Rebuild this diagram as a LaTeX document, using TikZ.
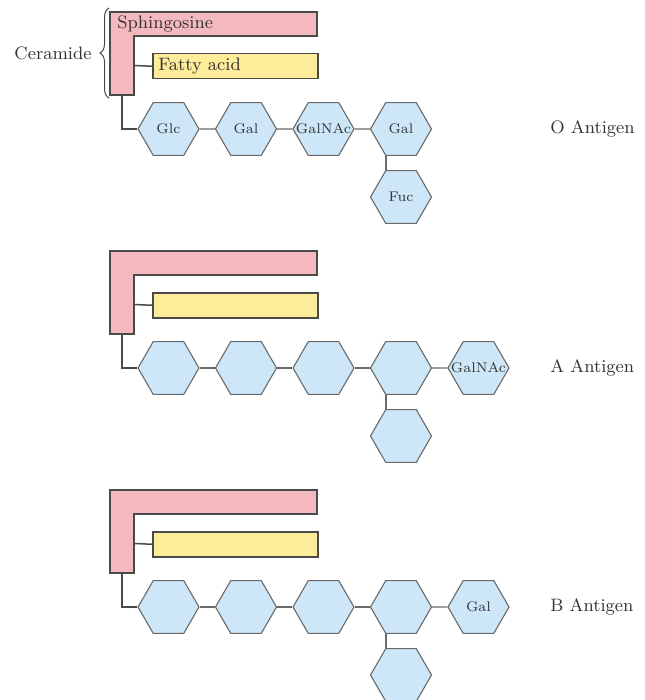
\documentclass[tikz,border=0pt]{standalone}
\usetikzlibrary{shapes.geometric,decorations.pathreplacing}
\definecolor{pinkfill}{HTML}{F4B9BF}
\definecolor{yellowfill}{HTML}{FDEC9A}
\definecolor{bluefill}{HTML}{CDE6F8}
\definecolor{edgegray}{HTML}{4A4A4A}
\definecolor{hexedge}{HTML}{6A6A6A}
\definecolor{textgray}{HTML}{333333}
\tikzset{
  hexa/.style={regular polygon, regular polygon sides=6, minimum size=30.5pt,
    inner sep=0pt, fill=bluefill, draw=hexedge, line width=0.55pt,
    text=textgray, font=\fontsize{7}{8}\selectfont},
  lipid/.style={draw=edgegray, line width=0.75pt},
  link/.style={draw=hexedge, line width=0.6pt},
  lbl/.style={text=textgray, font=\fontsize{9}{11}\selectfont, inner sep=0pt},
}
\newcommand{\hx}[1]{\makebox[0pt]{#1}}
\newcommand{\glyrow}[7]{%
\begin{scope}[yshift=#2]
  \draw[lipid, fill=pinkfill] (110,12) -- (317,12) -- (317,36) -- (134,36)
      -- (134,95) -- (110,95) -- cycle;
  \node[lipid, fill=yellowfill, minimum width=82.5pt, minimum height=12.5pt,
      inner sep=0pt, anchor=north west] (#1fa) at (152,53) {};
  \coordinate (#1pa) at (134,65.5);
  \coordinate (#1pb) at (122,95);
  \draw[lipid] (#1pa) -- (#1fa.west);
  \node[hexa] (#1h1) at (168.5,129) {\hx{#3}};
  \node[hexa] (#1h2) at (246,129) {\hx{#4}};
  \node[hexa] (#1h3) at (323.5,129) {\hx{#5}};
  \node[hexa] (#1h4) at (401,129) {\hx{#6}};
  \node[hexa] (#1br) at (401,197) {\hx{#7}};
  \draw[lipid] (#1pb) |- (#1h1.west);
  \draw[link] (#1h1) -- (#1h2);
  \draw[link] (#1h2) -- (#1h3);
  \draw[link] (#1h3) -- (#1h4);
  \draw[link] ([xshift=-7.5pt]#1h4.south) -- ([xshift=-7.5pt]#1br.north);
\end{scope}}
\begin{document}
\begin{tikzpicture}[x=0.5pt, y=-0.5pt]
  \useasboundingbox (0,0) rectangle (644,700);
  \clip (0,0) rectangle (644,700);
  \fill[white] (0,0) rectangle (644,700);
  % O antigen
  \glyrow{o}{0pt}{Glc}{Gal}{GalNAc}{Gal}{Fuc}
  \node[lbl, anchor=west] (olab) at (550,129) {O Antigen};
  \node[lbl, anchor=west] (sph) at (117,24.5) {Sphingosine};
  \node[lbl, anchor=west] (fat) at (158,66) {Fatty acid};
  \draw[edgegray, line width=0.5pt, decorate, decoration={brace, amplitude=4.5pt}]
      (109,98) -- (109,8);
  \node[lbl, anchor=east] (cer) at (92,53) {Ceramide};
  % A antigen
  \glyrow{a}{-119.5pt}{}{}{}{}{}
  \node[hexa] (ah5) at (478.5,368) {\hx{GalNAc}};
  \draw[link] (ah4) -- (ah5);
  \node[lbl, anchor=west] (alab) at (550,368) {A Antigen};
  % B antigen
  \glyrow{b}{-239pt}{}{}{}{}{}
  \node[hexa] (bh5) at (478.5,607) {\hx{Gal}};
  \draw[link] (bh4) -- (bh5);
  \node[lbl, anchor=west] (blab) at (550,607) {B Antigen};
\end{tikzpicture}
\end{document}
